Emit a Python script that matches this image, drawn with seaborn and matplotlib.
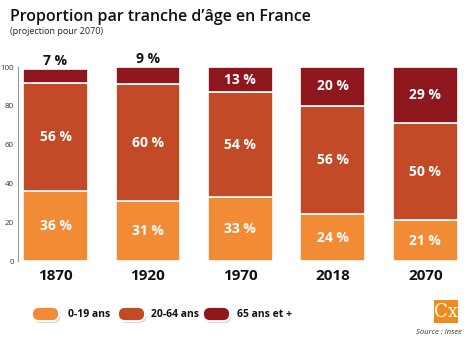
import matplotlib
matplotlib.use("Agg")
import matplotlib.pyplot as plt
from matplotlib.patches import FancyBboxPatch, Rectangle
import pandas as pd
import seaborn as sns

years = ["1870", "1920", "1970", "2018", "2070"]
jeunes = [36, 31, 33, 24, 21]
adultes = [56, 60, 54, 56, 50]
seniors = [7, 9, 13, 20, 29]
series_names = ["0-19 ans", "20-64 ans", "65 ans et +"]
colors = ["#F28B36", "#C24A26", "#8E161D"]
yticks = [0, 20, 40, 60, 80, 100]

sns.set_theme(style="white")
plt.rcParams["font.family"] = ["Open Sans", "DejaVu Sans"]

W, H = 474, 340
fig = plt.figure(figsize=(W / 100, H / 100), dpi=100)
ax = fig.add_axes([18 / W, 1 - 261 / H, 453 / W, 194 / H])

df = pd.DataFrame({"year": years, "j": jeunes, "a": adultes, "s": seniors})
bottoms_a = df["j"]
bottoms_s = df["j"] + df["a"]

bar_kw = dict(width=0.70, edgecolor="white", linewidth=1.2, saturation=1, ax=ax)
sns.barplot(data=df, x="year", y="j", color=colors[0], **bar_kw)
sns.barplot(data=df, x="year", y="a", bottom=bottoms_a, color=colors[1], **bar_kw)
sns.barplot(data=df, x="year", y="s", bottom=bottoms_s, color=colors[2], **bar_kw)

for i in range(len(years)):
    j, a, s = jeunes[i], adultes[i], seniors[i]
    ax.text(i, j / 2, f"{j} %", ha="center", va="center", color="white",
            fontsize=10, fontweight="bold")
    ax.text(i, j + a / 2, f"{a} %", ha="center", va="center", color="white",
            fontsize=10, fontweight="bold")
    if s < 10:
        ax.text(i, j + a + s + 0.5, f"{s} %", ha="center", va="bottom", color="#111111",
                fontsize=10, fontweight="bold", clip_on=False)
    else:
        ax.text(i, j + a + s / 2, f"{s} %", ha="center", va="center", color="white",
                fontsize=10, fontweight="bold")

ax.set_ylim(0, 100)
ax.set_xlim(-0.405, 4.495)
ax.set_yticks(yticks)
ax.set_yticklabels([str(t) for t in yticks], fontsize=5.8, color="#333333")
ax.tick_params(axis="y", direction="out", length=2.5, width=0.8, color="#999999", pad=0.5)
ax.tick_params(axis="x", length=0, pad=6)
for lbl in ax.get_xticklabels():
    lbl.set_fontsize(11)
    lbl.set_fontweight("bold")
    lbl.set_color("#111111")
ax.set_xlabel("")
ax.set_ylabel("")
for side in ["top", "right", "bottom"]:
    ax.spines[side].set_visible(False)
ax.spines["left"].set_color("#999999")
ax.spines["left"].set_linewidth(0.8)

# Overlay in pixel units for title, legend and logo
ov = fig.add_axes([0, 0, 1, 1], zorder=-1)
ov.set_xlim(0, W)
ov.set_ylim(H, 0)
ov.axis("off")

ov.text(10, 17, "Proportion par tranche d\u2019\u00e2ge en France",
        fontsize=11.5, fontweight="semibold", color="#111111", va="center", ha="left")
ov.text(10, 31, "(projection pour 2070)",
        fontsize=6.5, color="#222222", va="center", ha="left")

pill_x = [32, 118, 203]
text_x = [68, 151, 237]
for px, tx, col, name in zip(pill_x, text_x, colors, series_names):
    shadow = FancyBboxPatch((px + 1.5, 309), 27, 14,
                            boxstyle="round,pad=0,rounding_size=7",
                            facecolor="#b5b5b5", edgecolor="none", alpha=0.55)
    ov.add_patch(shadow)
    pill = FancyBboxPatch((px, 307), 27, 14,
                          boxstyle="round,pad=0,rounding_size=7",
                          facecolor=col, edgecolor="white", linewidth=1.3)
    ov.add_patch(pill)
    ov.text(tx, 314.5, name, fontsize=7.5, fontweight="bold",
            color="#111111", va="center", ha="left")

ov.add_patch(Rectangle((434, 300), 24, 23, facecolor="#F28B1E", edgecolor="none"))
ov.text(446, 312, "Cx", family="DejaVu Serif", fontsize=13,
        color="white", ha="center", va="center")
ov.text(462, 332, "Source : Insee", fontsize=5.5, style="italic",
        color="#333333", ha="right", va="center")

fig.savefig("out.png", dpi=100, facecolor="white")
